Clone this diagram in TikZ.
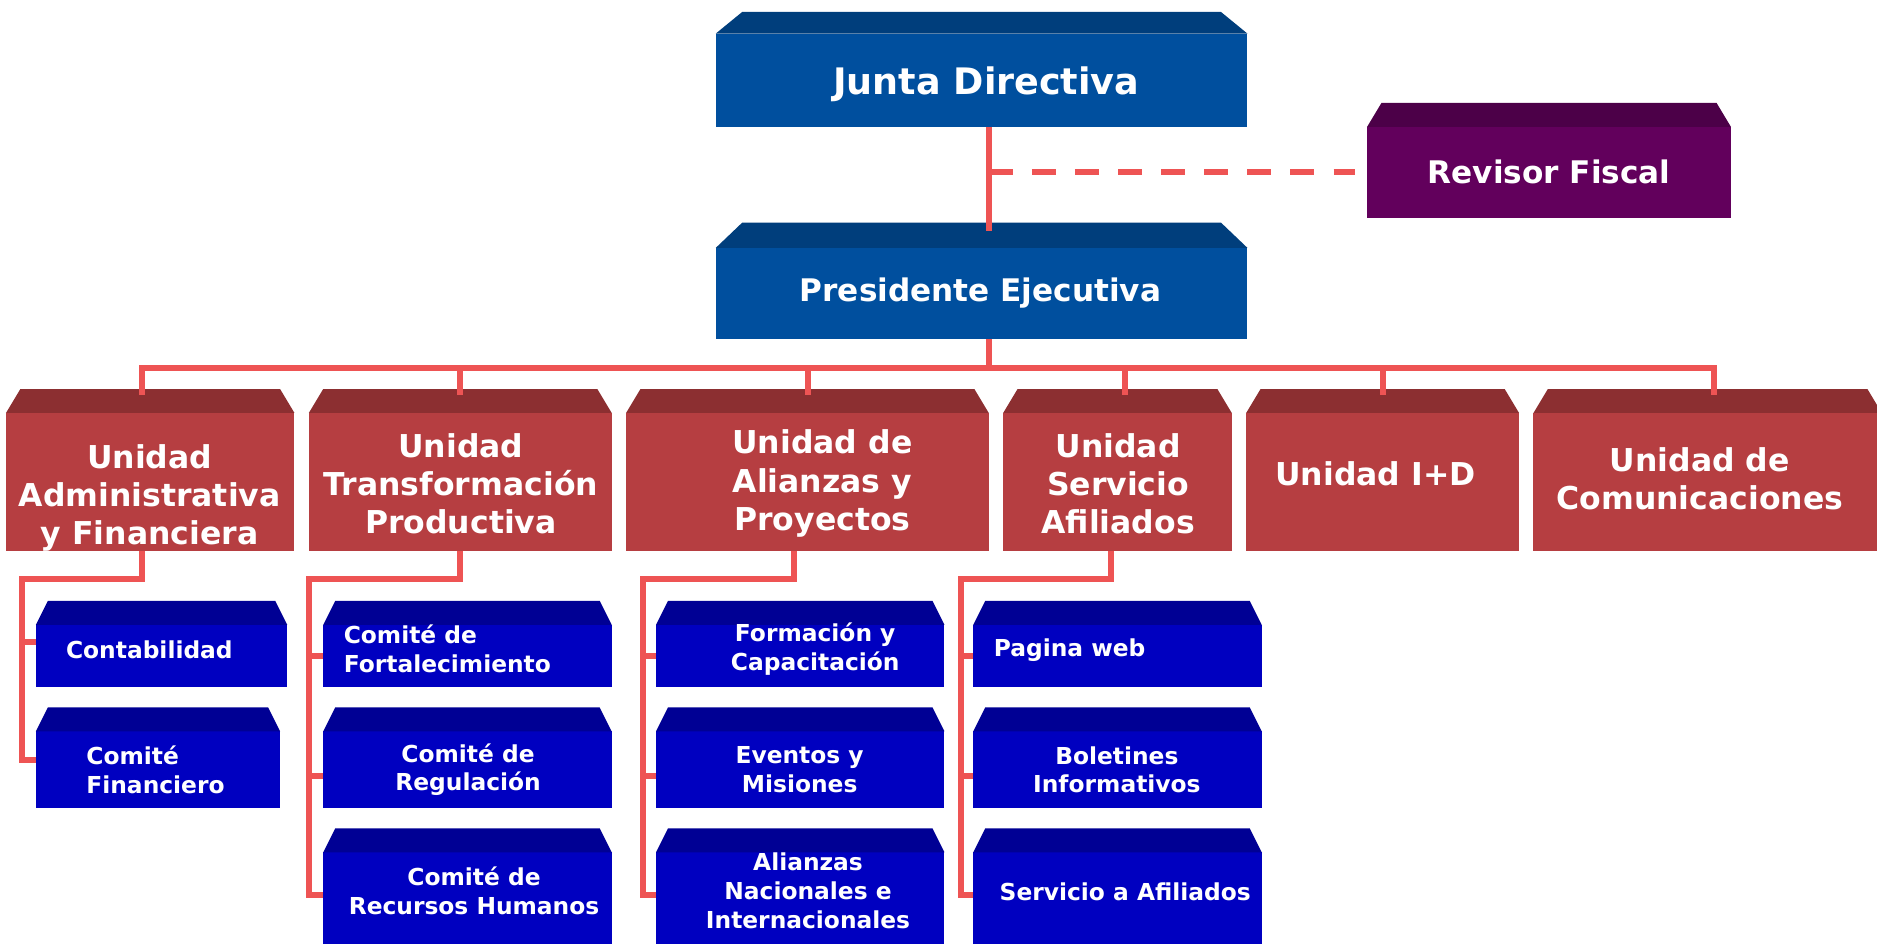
\documentclass[tikz,border=0pt]{standalone}
\usepackage{fontspec}
\setmainfont{DejaVu Sans}
\usetikzlibrary{calc}
\definecolor{lnc}{RGB}{238,84,84}
\definecolor{jfront}{RGB}{0,79,158}
\definecolor{jtop}{RGB}{0,62,124}
\definecolor{vfront}{RGB}{98,0,92}
\definecolor{vtop}{RGB}{76,0,72}
\definecolor{rfront}{RGB}{182,62,65}
\definecolor{rtop}{RGB}{140,47,49}
\definecolor{bfront}{RGB}{0,0,192}
\definecolor{btop}{RGB}{0,0,148}
\tikzset{
  face/.style={inner sep=0pt, outer sep=0pt, draw=none},
  conn/.style={draw=lnc, line width=5pt, line join=miter},
  dconn/.style={conn, dash pattern=on 20pt off 16pt},
  bigtxt/.style={text=white, inner sep=0pt, align=center, font=\bfseries\fontsize{30.5}{36}\selectfont},
  midtxt/.style={text=white, inner sep=0pt, align=center, font=\bfseries\fontsize{26}{32}\selectfont},
  redtxt/.style={text=white, inner sep=0pt, align=center, font=\bfseries\fontsize{26.3}{32}\selectfont},
  bluetxt/.style={text=white, inner sep=0pt, align=center, font=\bfseries\fontsize{19.5}{24}\selectfont},
  bluetxtl/.style={bluetxt, align=left, anchor=west},
}
% #1 name, #2 x1, #3 y1 (front top), #4 x2, #5 y2 (front bottom), #6 top depth, #7 inset, #8 colour prefix
\newcommand\cubebox[8]{%
  \node[face, fill=#8front, minimum width={(#4)-(#2)}, minimum height={(#5)-(#3)}] (#1) at ({((#2)+(#4))/2},{((#3)+(#5))/2}) {};
  \fill[#8top] (#1.north west) -- ++(#7,-#6) -- ($(#1.north east)+(-#7,-#6)$) -- (#1.north east) -- cycle;
}
\begin{document}
\begin{tikzpicture}[x=1pt,y=-1pt]
\clip (0,0) rectangle (1568,788);
\fill[white] (0,0) rectangle (1568,788);
% top level
\cubebox{junta}{598}{28}{1042}{106}{18}{22}{j}
\cubebox{pres}{598}{207}{1042}{283}{21}{22}{j}
\cubebox{rev}{1142}{106}{1446}{182}{20}{12}{v}
% units
\cubebox{u1}{5}{345}{246}{460}{20}{12}{r}
\cubebox{u2}{258}{345}{511}{460}{20}{12}{r}
\cubebox{u3}{523}{345}{826}{460}{20}{12}{r}
\cubebox{u4}{838}{345}{1029}{460}{20}{12}{r}
\cubebox{u5}{1041}{345}{1269}{460}{20}{12}{r}
\cubebox{u6}{1281}{345}{1572}{460}{20}{12}{r}
% sub boxes
\cubebox{a1}{30}{522}{240}{574}{20}{10}{b}
\cubebox{a2}{30}{611}{234}{675}{20}{10}{b}
\cubebox{b1}{270}{522}{511}{574}{20}{10}{b}
\cubebox{b2}{270}{611}{511}{675}{20}{10}{b}
\cubebox{b3}{270}{712}{511}{800}{20}{10}{b}
\cubebox{c1}{548}{522}{789}{574}{20}{10}{b}
\cubebox{c2}{548}{611}{789}{675}{20}{10}{b}
\cubebox{c3}{548}{712}{789}{800}{20}{10}{b}
\cubebox{d1}{813}{522}{1054}{574}{20}{10}{b}
\cubebox{d2}{813}{611}{1054}{675}{20}{10}{b}
\cubebox{d3}{813}{712}{1054}{800}{20}{10}{b}
% texts
\node[bigtxt] (tjunta) at (824,70) {Junta Directiva};
\node[midtxt] (tpres) at (819,245) {Presidente Ejecutiva};
\node[midtxt] (trev) at (1294,144) {Revisor Fiscal};
\node[redtxt] (tu1) at (125,416) {Unidad\\Administrativa\\y Financiera};
\node[redtxt] (tu2) at (385,404) {Unidad\\Transformación\\Productiva};
\node[redtxt] (tu3) at (687,404) {Unidad de\\Alianzas y\\Proyectos};
\node[redtxt] (tu4) at (934,404) {Unidad\\Servicio\\Afiliados};
\node[redtxt] (tu5) at (1149,396) {Unidad I+D};
\node[redtxt] (tu6) at (1420,400) {Unidad de\\Comunicaciones};
\node[bluetxtl] (ta1) at (55,543) {Contabilidad};
\node[bluetxtl] (ta2) at (72,643) {Comité\\Financiero};
\node[bluetxtl] (tb1) at (287,542) {Comité de\\Fortalecimiento};
\node[bluetxt] (tb2) at (391,643) {Comité de\\Regulación};
\node[bluetxt] (tb3) at (396,744) {Comité de\\Recursos Humanos};
\node[bluetxt] (tc1) at (681,542) {Formación y\\Capacitación};
\node[bluetxt] (tc2) at (668,643) {Eventos y\\Misiones};
\node[bluetxt] (tc3) at (675,744) {Alianzas\\Nacionales e\\Internacionales};
\node[bluetxtl] (td1) at (830,543) {Pagina web};
\node[bluetxt] (td2) at (933,643) {Boletines\\Informativos};
\node[bluetxt] (td3) at (940,745) {Servicio a Afiliados};
% connectors
\coordinate (jx) at (826,0);
\coordinate (pjoin) at (826,193);
\coordinate (bar) at (826,307);
\draw[conn] (junta.south -| jx) -- (pjoin);
\draw[dconn] (jx |- rev.west) -- ($(rev.west)+(-10,0)$);
\draw[conn] (pres.south -| jx) -- (bar);
\coordinate (bl) at (119,307);
\coordinate (br) at (1432,307);
\draw[conn] (119,330) -- (bl) -- (br) -- (1432,330);
\foreach \x in {384,675,940,1155} { \draw[conn] (\x,307) -- (\x,330); }
% column 1
\coordinate (k1) at (18,484);
\draw[conn] (u1.south -| 119,0) -- (119,484) -- (k1) -- (18,635) -- (a2.west |- 0,635);
\draw[conn] (18,536) -- (a1.west |- 0,536);
% column 2
\coordinate (k2) at (258,484);
\draw[conn] (u2.south -| 384,0) -- (384,484) -- (k2) -- (258,748) -- (b3.west |- 0,748);
\draw[conn] (258,548) -- (b1.west |- 0,548);
\draw[conn] (258,648) -- (b2.west |- 0,648);
% column 3
\coordinate (k3) at (537,484);
\draw[conn] (u3.south -| 663,0) -- (663,484) -- (k3) -- (537,748) -- (c3.west |- 0,748);
\draw[conn] (537,548) -- (c1.west |- 0,548);
\draw[conn] (537,648) -- (c2.west |- 0,648);
% column 4
\coordinate (k4) at (803,484);
\draw[conn] (u4.south -| 928,0) -- (928,484) -- (k4) -- (803,748) -- (d3.west |- 0,748);
\draw[conn] (803,548) -- (d1.west |- 0,548);
\draw[conn] (803,648) -- (d2.west |- 0,648);
\end{tikzpicture}
\end{document}
